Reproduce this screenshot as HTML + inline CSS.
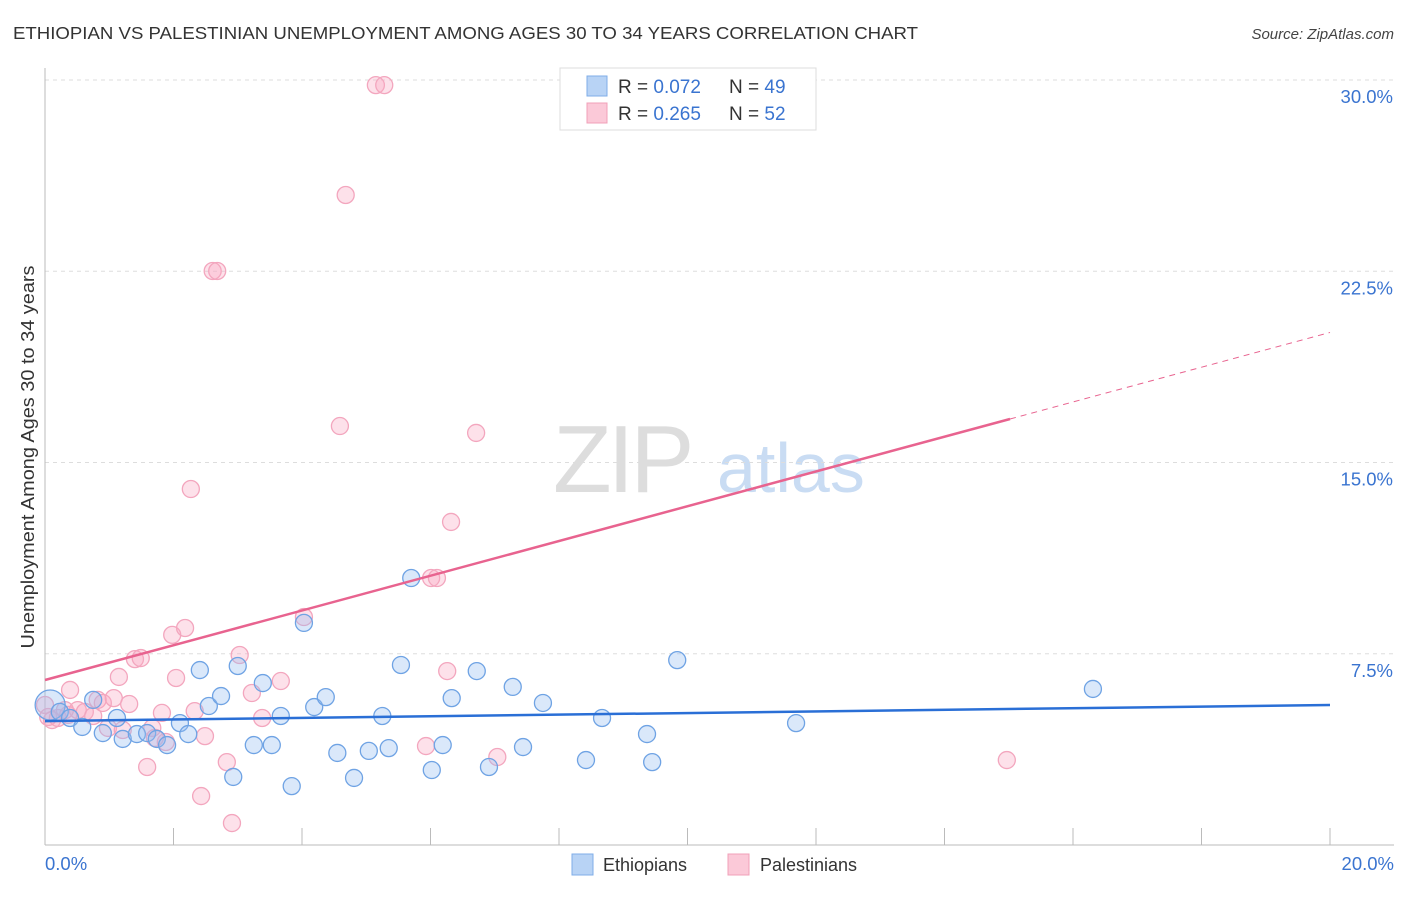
<!DOCTYPE html>
<html><head><meta charset="utf-8"><style>
body{margin:0;background:#fff;font-family:"Liberation Sans",sans-serif}
svg text{font-family:"Liberation Sans",sans-serif}
</style></head><body>
<svg id="chart" width="1406" height="892" xmlns="http://www.w3.org/2000/svg">
<text x="13" y="39" font-size="17.5" fill="#333" textLength="905" lengthAdjust="spacingAndGlyphs">ETHIOPIAN VS PALESTINIAN UNEMPLOYMENT AMONG AGES 30 TO 34 YEARS CORRELATION CHART</text>
<text x="1394" y="39" font-size="15" fill="#444" font-style="italic" text-anchor="end">Source: ZipAtlas.com</text>
<g>
<text x="553" y="492" font-size="96" fill="#ddd" font-family="Liberation Serif" letter-spacing="-4">ZIP</text>
<text x="717" y="492" font-size="70" fill="#c9dcf3">atlas</text>
</g>
<g id="grid"></g>
<g id="axes"></g>
<g id="marks"></g>
<g>
<rect x="560" y="68" width="256" height="62" fill="#fff" stroke="#ddd"/>
<rect x="587" y="76" width="20" height="20" fill="#b8d3f5" stroke="#7faee8"/>
<text x="618" y="93" font-size="19" fill="#333">R = <tspan fill="#3a74d0">0.072</tspan></text>
<text x="729" y="93" font-size="19" fill="#333">N = <tspan fill="#3a74d0">49</tspan></text>
<rect x="587" y="103" width="20" height="20" fill="#fbc9d8" stroke="#f0a0b8"/>
<text x="618" y="120" font-size="19" fill="#333">R = <tspan fill="#3a74d0">0.265</tspan></text>
<text x="729" y="120" font-size="19" fill="#333">N = <tspan fill="#3a74d0">52</tspan></text>
</g>
<g>
<rect x="572" y="854" width="21" height="21" fill="#b8d3f5" stroke="#7faee8"/>
<text x="603" y="871" font-size="18" fill="#333">Ethiopians</text>
<rect x="728" y="854" width="21" height="21" fill="#fbc9d8" stroke="#f0a0b8"/>
<text x="760" y="871" font-size="18" fill="#333">Palestinians</text>
</g>
<text transform="translate(34,457) rotate(-90)" font-size="18" fill="#333" text-anchor="middle" textLength="383" lengthAdjust="spacingAndGlyphs">Unemployment Among Ages 30 to 34 years</text>
</svg>
<script>
const yTicks=[7.5,15,22.5,30];
const yTickLabels=["7.5%","15.0%","22.5%","30.0%"];
const xTickCount=10;
const xMax=20;
const ethX=[0.08,0.23,0.39,0.58,0.75,0.90,1.12,1.21,1.43,1.59,1.74,1.90,2.10,2.23,2.41,2.55,2.74,2.93,3.00,3.25,3.39,3.53,3.67,3.84,4.03,4.19,4.37,4.55,4.81,5.04,5.25,5.35,5.54,5.70,6.02,6.19,6.33,6.72,6.91,7.28,7.44,7.75,8.42,8.67,9.37,9.45,9.84,11.69,16.31];
const ethY=[5.49,5.22,4.98,4.63,5.69,4.39,4.98,4.16,4.35,4.39,4.16,3.92,4.78,4.35,6.86,5.45,5.84,2.67,7.02,3.92,6.35,3.92,5.06,2.31,8.71,5.41,5.80,3.61,2.63,3.69,5.06,3.80,7.06,10.47,2.94,3.92,5.76,6.82,3.06,6.20,3.84,5.57,3.33,4.98,4.35,3.25,7.25,4.78,6.12];
const palX=[0.05,0.11,0.20,0.36,0.39,0.51,0.62,0.75,0.82,0.90,0.98,1.07,1.15,1.31,1.40,1.49,1.59,1.67,1.82,1.98,2.04,2.18,2.27,2.33,2.49,2.43,2.61,2.68,2.83,2.91,3.03,3.22,3.38,3.67,4.03,4.59,4.68,5.15,5.28,5.93,6.01,6.10,6.26,6.32,6.71,7.04,14.97,1.88,0.31,1.21,1.71,0.00];
const palY=[5.02,4.90,4.98,5.10,6.08,5.29,5.22,5.06,5.69,5.57,4.59,5.76,6.59,5.53,7.29,7.33,3.06,4.59,5.18,8.24,6.55,8.51,13.96,5.25,4.27,1.92,22.51,22.51,3.25,0.86,7.45,5.96,4.98,6.43,8.94,16.43,25.49,29.80,29.80,3.88,10.47,10.47,6.82,12.67,16.16,3.45,3.33,4.04,5.29,4.51,4.20,5.49];
const ethTrend=[4.86,5.49];
const palTrend=[6.47,20.1];
const palSolidEnd=15.02;

const NS="http://www.w3.org/2000/svg";
const X0=45,X1=1330,Y0=845,Y30=80;
const sx=v=>X0+(X1-X0)*v/xMax;
const sy=v=>Y0-(Y0-Y30)*v/30;
function mk(tag,attrs,parent){const e=document.createElementNS(NS,tag);for(const k in attrs)e.setAttribute(k,attrs[k]);parent.appendChild(e);return e;}
const grid=document.getElementById('grid'),axes=document.getElementById('axes'),marks=document.getElementById('marks');
yTicks.forEach((t,i)=>{
  const l=mk('line',{x1:X0,x2:1394,y1:sy(t),y2:sy(t),stroke:'#ddd','stroke-dasharray':'4,4'},grid);
  
  
  const tx=mk('text',{x:1393,y:sy(t)+23,'font-size':18.5,fill:'#3a74d0','text-anchor':'end'},axes);
  tx.textContent=yTickLabels[i];
  
  
});
mk('line',{x1:X0,x2:X0,y1:68,y2:Y0,stroke:'#bbb'},axes);
mk('line',{x1:X0,x2:X1+64,y1:Y0,y2:Y0,stroke:'#bbb'},axes);
for(let i=1;i<=xTickCount;i++){
  const t=mk('line',{x1:sx(i*xMax/xTickCount),x2:sx(i*xMax/xTickCount),y1:828,y2:Y0,stroke:'#bbb'},axes);
  
  
}
const xl0=mk('text',{x:45,y:870,'font-size':18.5,fill:'#3a74d0'},axes);xl0.textContent='0.0%';


const xl1=mk('text',{x:1394,y:870,'font-size':18.5,fill:'#3a74d0','text-anchor':'end'},axes);xl1.textContent='20.0%';



palX.forEach((x,i)=>{
  const c=mk('circle',{cx:sx(x),cy:sy(palY[i]),r:8.5,fill:'rgba(248,170,195,0.35)',stroke:'#f3a6be','stroke-width':1.3},marks);
  
  
});
ethX.forEach((x,i)=>{
  const c=mk('circle',{cx:sx(x),cy:sy(ethY[i]),r:i===0?15:8.5,fill:'rgba(150,190,240,0.35)',stroke:'#6fa3e4','stroke-width':1.3},marks);
  
  
});
const et=mk('line',{x1:sx(0),y1:sy(ethTrend[0]),x2:sx(xMax),y2:sy(ethTrend[1]),stroke:'#2a6fd6','stroke-width':2.5},marks);


const pe=palTrend[0]+(palTrend[1]-palTrend[0])*palSolidEnd/xMax;
const pt=mk('line',{x1:sx(0),y1:sy(palTrend[0]),x2:sx(palSolidEnd),y2:sy(pe),stroke:'#e8638f','stroke-width':2.5},marks);


const pd=mk('line',{x1:sx(palSolidEnd),y1:sy(pe),x2:sx(xMax),y2:sy(palTrend[1]),stroke:'#e8638f','stroke-width':1,'stroke-dasharray':'6,5'},marks);


</script>
</body></html>
